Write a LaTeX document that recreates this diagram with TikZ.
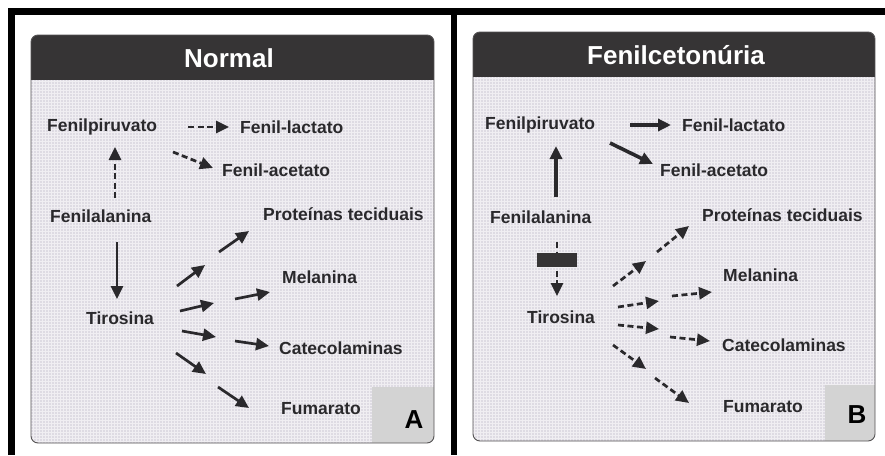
\documentclass[tikz,border=0pt]{standalone}
\usepackage{fontspec}
\setmainfont{Liberation Sans}
\usetikzlibrary{arrows.meta}
\definecolor{txt}{HTML}{2A292C}
\definecolor{arrc}{HTML}{2A292C}
\definecolor{hdr}{HTML}{363435}
\definecolor{boxfill}{HTML}{DEDBE3}
\definecolor{lettbg}{HTML}{D3D3D3}
\tikzset{
  x=1pt, y=-1pt,
  lbl/.style={font=\fontsize{17.5}{20}\selectfont\bfseries, text=txt, inner sep=0pt, anchor=west},
  ttl/.style={font=\fontsize{26}{30}\selectfont\bfseries, text=white, inner sep=0pt},
  lett/.style={font=\fontsize{26}{30}\selectfont\bfseries, text=black, inner sep=0pt},
  solidarr/.style={line width=2.7pt, draw=arrc, -{Triangle[length=13pt,width=12pt]}},
  dasharr/.style={solidarr, dash pattern=on 6pt off 3.5pt},
  framebar/.style={fill=black, draw=none},
}
\begin{document}
\begin{tikzpicture}
\useasboundingbox (0,0) rectangle (885,455);
\fill[white] (0,0) rectangle (885,455);
% outer frame bars
\fill[framebar] (8,8) rectangle (885,15);
\fill[framebar] (8,8) rectangle (15,455);
\fill[framebar] (451,8) rectangle (457,455);

% ---------- panel A ----------
\fill[boxfill, rounded corners=7pt] (31,35) rectangle (434,443);
\begin{scope}
  \clip[rounded corners=7pt] (31,35) rectangle (434,443);
  \draw[white, line width=0.35pt, opacity=0.55, step=3pt] (31,35) grid (434,443);
  \fill[lettbg] (372,387) rectangle (434,443);
  \fill[hdr] (31,35) rectangle (434,80);
\end{scope}
\draw[hdr!85, line width=0.9pt, rounded corners=7pt] (31,35) rectangle (434,443);
\node[ttl] (tA) at (229,58) {Normal};
\node[lett] (lA) at (414,420) {A};

\node[lbl] (fpA) at (47,127) {Fenilpiruvato};
\node[lbl] (flA) at (240,127) {Fenil-lactato};
\node[lbl] (faA) at (222,170) {Fenil-acetato};
\node[lbl] (feA) at (50,216) {Fenilalanina};
\node[lbl] (ptA) at (263,214) {Proteínas teciduais};
\node[lbl] (tiA) at (86,318) {Tirosina};
\node[lbl] (meA) at (282,277) {Melanina};
\node[lbl] (caA) at (279,348) {Catecolaminas};
\node[lbl] (fuA) at (281,409) {Fumarato};

\coordinate (A1s) at (188,127); \coordinate (A1e) at (229,127);
\coordinate (A2s) at (173,152); \coordinate (A2e) at (213,168);
\coordinate (A3s) at (115,198); \coordinate (A3e) at (115,147);
\coordinate (A4s) at (117,242); \coordinate (A4e) at (117,299);
\draw[dasharr] (A1s) -- (A1e);
\draw[dasharr] (A2s) -- (A2e);
\draw[dasharr] (A3s) -- (A3e);
\draw[solidarr] (A4s) -- (A4e);

\coordinate (Ab1s) at (177,286); \coordinate (Ab1e) at (205,265);
\coordinate (Ab2s) at (219,252); \coordinate (Ab2e) at (249,231);
\coordinate (Ab3s) at (180,311); \coordinate (Ab3e) at (214,303);
\coordinate (Ab4s) at (235,299); \coordinate (Ab4e) at (270,292);
\coordinate (Ab5s) at (182,331); \coordinate (Ab5e) at (216,337);
\coordinate (Ab6s) at (235,341); \coordinate (Ab6e) at (269,346);
\coordinate (Ab7s) at (176,353); \coordinate (Ab7e) at (206,374);
\coordinate (Ab8s) at (218,387); \coordinate (Ab8e) at (249,408);
\foreach \i in {1,...,8} {\draw[solidarr] (Ab\i s) -- (Ab\i e);}

% ---------- panel B ----------
\fill[boxfill, rounded corners=7pt] (473,32) rectangle (875,441);
\begin{scope}
  \clip[rounded corners=7pt] (473,32) rectangle (875,441);
  \draw[white, line width=0.35pt, opacity=0.55, step=3pt] (473,32) grid (875,441);
  \fill[lettbg] (825,385) rectangle (875,441);
  \fill[hdr] (473,32) rectangle (875,77);
\end{scope}
\draw[hdr!85, line width=0.9pt, rounded corners=7pt] (473,32) rectangle (875,441);
\node[ttl] (tB) at (676,55) {Fenilcetonúria};
\node[lett] (lB) at (857,415) {B};

\node[lbl] (fpB) at (485,125) {Fenilpiruvato};
\node[lbl] (flB) at (682,125) {Fenil-lactato};
\node[lbl] (faB) at (660,170) {Fenil-acetato};
\node[lbl] (feB) at (490,217) {Fenilalanina};
\node[lbl] (ptB) at (702,215) {Proteínas teciduais};
\node[lbl] (tiB) at (527,317) {Tirosina};
\node[lbl] (meB) at (723,275) {Melanina};
\node[lbl] (caB) at (722,345) {Catecolaminas};
\node[lbl] (fuB) at (723,407) {Fumarato};

\coordinate (B1s) at (630,125); \coordinate (B1e) at (671,125);
\coordinate (B2s) at (610,143); \coordinate (B2e) at (653,164);
\coordinate (B3s) at (556,197); \coordinate (B3e) at (556,146);
\coordinate (B4s) at (557,242); \coordinate (B4e) at (557,296);
\draw[solidarr, line width=3.6pt] (B1s) -- (B1e);
\draw[solidarr, line width=3.6pt] (B2s) -- (B2e);
\draw[solidarr, line width=3.6pt] (B3s) -- (B3e);
\draw[dasharr] (B4s) -- (B4e);
\node[fill=hdr, draw=none, minimum width=40pt, minimum height=14pt, inner sep=0pt] (blk) at (557,260) {};

\coordinate (Bb1s) at (613,286); \coordinate (Bb1e) at (646,261);
\coordinate (Bb2s) at (657,252); \coordinate (Bb2e) at (689,226);
\coordinate (Bb3s) at (618,307); \coordinate (Bb3e) at (659,301);
\coordinate (Bb4s) at (672,296); \coordinate (Bb4e) at (712,292);
\coordinate (Bb5s) at (618,325); \coordinate (Bb5e) at (659,329);
\coordinate (Bb6s) at (670,337); \coordinate (Bb6e) at (710,341);
\coordinate (Bb7s) at (613,345); \coordinate (Bb7e) at (646,369);
\coordinate (Bb8s) at (655,378); \coordinate (Bb8e) at (689,403);
\foreach \i in {1,...,8} {\draw[dasharr] (Bb\i s) -- (Bb\i e);}
\end{tikzpicture}
\end{document}
